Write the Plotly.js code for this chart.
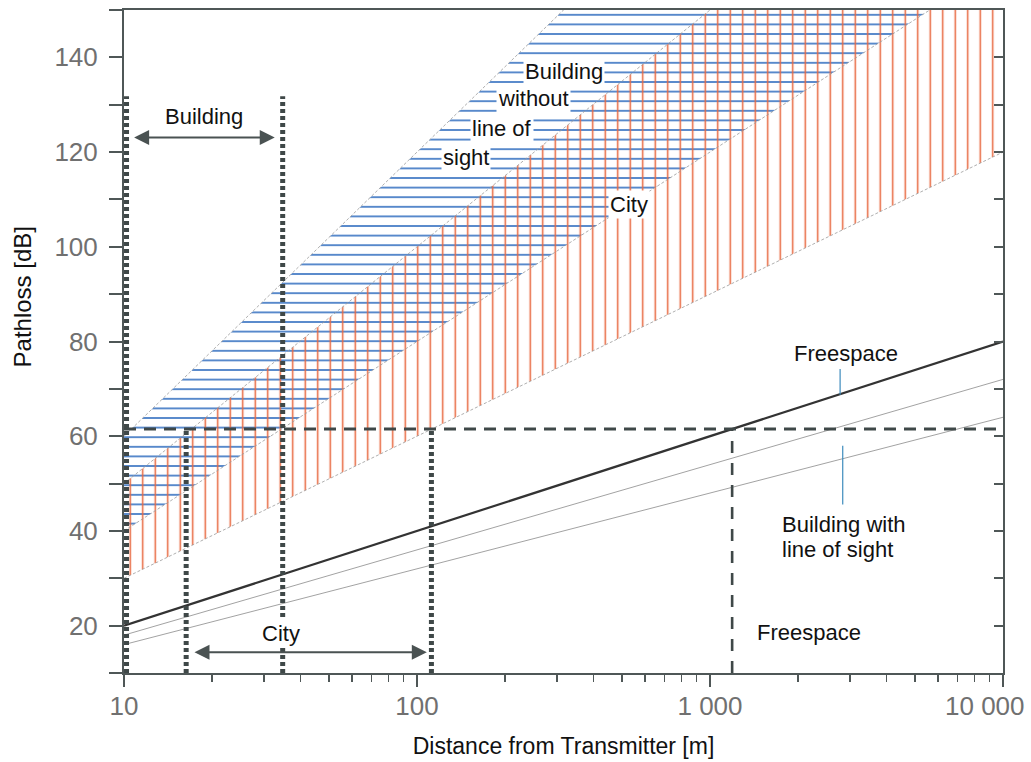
<!DOCTYPE html>
<html><head><meta charset="utf-8">
<script src="https://cdn.plot.ly/plotly-3.0.1.min.js"></script>
<style>html,body{margin:0;padding:0;background:#fff}#chart{width:1031px;height:762px}</style>
</head><body><div id="chart"></div>
<script>
// ---------- values ----------
const lineDistances   = [10, 10000];      // m, end points of every straight (log) line
const freespaceLoss   = [20, 80];         // dB
const buildingLosHigh = [18, 72];
const buildingLosLow  = [16, 64];
const cityLow         = [30, 120];
const cityHigh        = [50, 200];
const nlosLow         = [40, 160];
const nlosHigh        = [60, 240];
const thresholdLoss   = 61.5;
const axisBottomLoss  = 10;
const buildingRange   = [10.2, 34.8];
const cityRange       = [16.3, 112];
const freespaceRange  = 1190;
const buildingMarkerTop = 131.8;
const buildingArrowX  = [10.7, 32.7];
const buildingArrowY  = 123.1;
const cityArrowX      = [17.2, 108];
const cityArrowY      = 14.4;
const freespaceLeaderX = [2780, 2780];
const freespaceLeaderY = [74.2, 68.75];
const losLeaderX      = [2838, 2838];
const losLeaderY      = [58.0, 45.6];
const xTickVals = [10, 100, 1000, 10000];
const xTickText = ['10', '100', '1 000', '10 000'];
const yTickVals = [10, 20, 30, 40, 50, 60, 70, 80, 90, 100, 110, 120, 130, 140, 150];
const yTickText = ['', '20', '', '40', '', '60', '', '80', '', '100', '', '120', '', '140', ''];

// ---------- styles ----------
const RED = '#e8683f', BLUE = '#3a74c2', DARK = '#3f4848', AX = '#4f5757';
const FONT = 'Liberation Sans, Arial, sans-serif';
const L = Math.log10;

function band(low, high) {
  return {
    x: [lineDistances[0], lineDistances[1], lineDistances[1], lineDistances[0]],
    y: [low[0], low[1], high[1], high[0]]
  };
}
const nlosBand = band(nlosLow, nlosHigh);
const cityBand = band(cityLow, cityHigh);

const traces = [
  { x: nlosBand.x, y: nlosBand.y, mode: 'none', fill: 'toself', fillcolor: 'rgba(0,0,0,0)',
    fillpattern: { shape: '-', size: 9.6, solidity: 0.17, fgcolor: BLUE, bgcolor: 'rgba(0,0,0,0)' }, hoverinfo: 'skip' },
  { x: cityBand.x, y: cityBand.y, mode: 'none', fill: 'toself', fillcolor: 'rgba(0,0,0,0)',
    fillpattern: { shape: '|', size: 12.5, solidity: 0.12, fgcolor: RED, bgcolor: 'rgba(0,0,0,0)' }, hoverinfo: 'skip' }
];
[nlosLow, nlosHigh, cityLow, cityHigh].forEach(v => traces.push({
  x: lineDistances, y: v, mode: 'lines', line: { color: '#9a9a9a', width: 0.8, dash: '3px,2px' }, hoverinfo: 'skip'
}));
[buildingLosHigh, buildingLosLow].forEach(v => traces.push({
  x: lineDistances, y: v, mode: 'lines', line: { color: '#8a8a8a', width: 0.8 }
}));
traces.push({ x: lineDistances, y: freespaceLoss, mode: 'lines', line: { color: '#333', width: 2.2 } });
traces.push({ x: lineDistances, y: [thresholdLoss, thresholdLoss], mode: 'lines',
  line: { color: DARK, width: 3, dash: '12px,8px' } });
buildingRange.forEach(d => traces.push({ x: [d, d], y: [axisBottomLoss, buildingMarkerTop], mode: 'lines',
  line: { color: DARK, width: 5, dash: '4px,3px' } }));
cityRange.forEach(d => traces.push({ x: [d, d], y: [axisBottomLoss, thresholdLoss], mode: 'lines',
  line: { color: DARK, width: 5, dash: '4px,3px' } }));
traces.push({ x: [freespaceRange, freespaceRange], y: [axisBottomLoss, thresholdLoss], mode: 'lines',
  line: { color: DARK, width: 2.6, dash: '12px,10px' } });
traces.push({ x: freespaceLeaderX, y: freespaceLeaderY, mode: 'lines', line: { color: '#3d8bbd', width: 1.2 } });
traces.push({ x: losLeaderX, y: losLeaderY, mode: 'lines', line: { color: '#3d8bbd', width: 1.2 } });
traces.push({ x: [lineDistances[0]], y: [axisBottomLoss], yaxis: 'y2', mode: 'markers',
  marker: { opacity: 0 }, hoverinfo: 'skip' });
traces.forEach(t => { if (!t.yaxis) t.yaxis = 'y'; });

const labelFont = { family: FONT, size: 22, color: '#111' };
const tickFont = { family: FONT, size: 26, color: '#707070' };
function label(text, lx, y, extra) {
  return Object.assign({ x: lx, y: y, xref: 'x', yref: 'y', text: text, showarrow: false,
    font: labelFont, bgcolor: 'white', borderpad: 1 }, extra || {});
}
function arrow(xs, y) {
  return { x: L(xs[1]), y: y, ax: L(xs[0]), ay: y, xref: 'x', yref: 'y', axref: 'x', ayref: 'y',
    text: '', showarrow: true, arrowside: 'end+start', arrowhead: 2, arrowsize: 1.5, arrowwidth: 2,
    arrowcolor: '#4a5252', standoff: 0, startstandoff: 0 };
}

const annotations = [
  label('Building', 1.273, 127.6),
  label('City', 1.536, 18.3),
  label('Building', 2.501, 137.0),
  label('without', 2.396, 131.3),
  label('line of', 2.290, 125.0),
  label('sight', 2.167, 118.8),
  label('City', 2.724, 108.95),
  label('Freespace', 3.463, 77.5, { bgcolor: 'rgba(0,0,0,0)' }),
  label('Building with', 3.239, 41.35, { xanchor: 'left', bgcolor: 'rgba(0,0,0,0)' }),
  label('line of sight', 3.239, 36.1, { xanchor: 'left', bgcolor: 'rgba(0,0,0,0)' }),
  label('Freespace', 3.338, 18.65, { bgcolor: 'rgba(0,0,0,0)' }),
  arrow(buildingArrowX, buildingArrowY),
  arrow(cityArrowX, cityArrowY),
  // last x tick label, pulled inside the canvas like in the reference
  { text: xTickText[3], x: L(xTickVals[3]), xref: 'x', y: 0, yref: 'paper', xanchor: 'right', yanchor: 'middle',
    xshift: 24, yshift: -33, showarrow: false, font: tickFont },
  { text: 'Pathloss [dB]', xref: 'paper', yref: 'paper', x: -0.116, y: 0.5665, xanchor: 'center', yanchor: 'middle',
    textangle: -90, showarrow: false, font: { family: FONT, size: 24, color: '#111' } }
];

const layout = {
  width: 1031, height: 762,
  margin: { l: 124, r: 28, t: 10, b: 89 },
  paper_bgcolor: 'white', plot_bgcolor: 'white',
  showlegend: false,
  xaxis: {
    type: 'log', range: [1, 4], tickvals: xTickVals, ticktext: xTickText.slice(0, 3).concat(['']),
    ticks: 'outside', ticklen: 12, tickwidth: 2, tickcolor: AX,
    showline: true, linecolor: AX, linewidth: 2, mirror: true,
    showgrid: false, zeroline: false, tickfont: tickFont, ticklabelstandoff: -3,
    minor: { ticks: 'outside', ticklen: 7, tickwidth: 1.5, tickcolor: AX, dtick: 'D1', showgrid: false },
    title: { text: 'Distance from Transmitter [m]', font: { family: FONT, size: 23, color: '#111' }, standoff: 18 }
  },
  yaxis: {
    range: [10, 150], tickvals: yTickVals, ticktext: yTickText,
    ticks: 'outside', ticklen: 13, tickwidth: 2, tickcolor: AX,
    showline: true, linecolor: AX, linewidth: 2, mirror: false,
    showgrid: false, zeroline: false, tickfont: tickFont, ticklabelstandoff: 6
  },
  yaxis2: {
    overlaying: 'y', side: 'right', range: [10, 150], tickvals: yTickVals,
    showticklabels: false, ticks: 'inside', ticklen: 9, tickwidth: 2, tickcolor: AX,
    showline: true, linecolor: AX, linewidth: 2, showgrid: false, zeroline: false
  },
  annotations: annotations
};

Plotly.newPlot('chart', traces, layout, { staticPlot: true, displayModeBar: false });
</script>
</body></html>
